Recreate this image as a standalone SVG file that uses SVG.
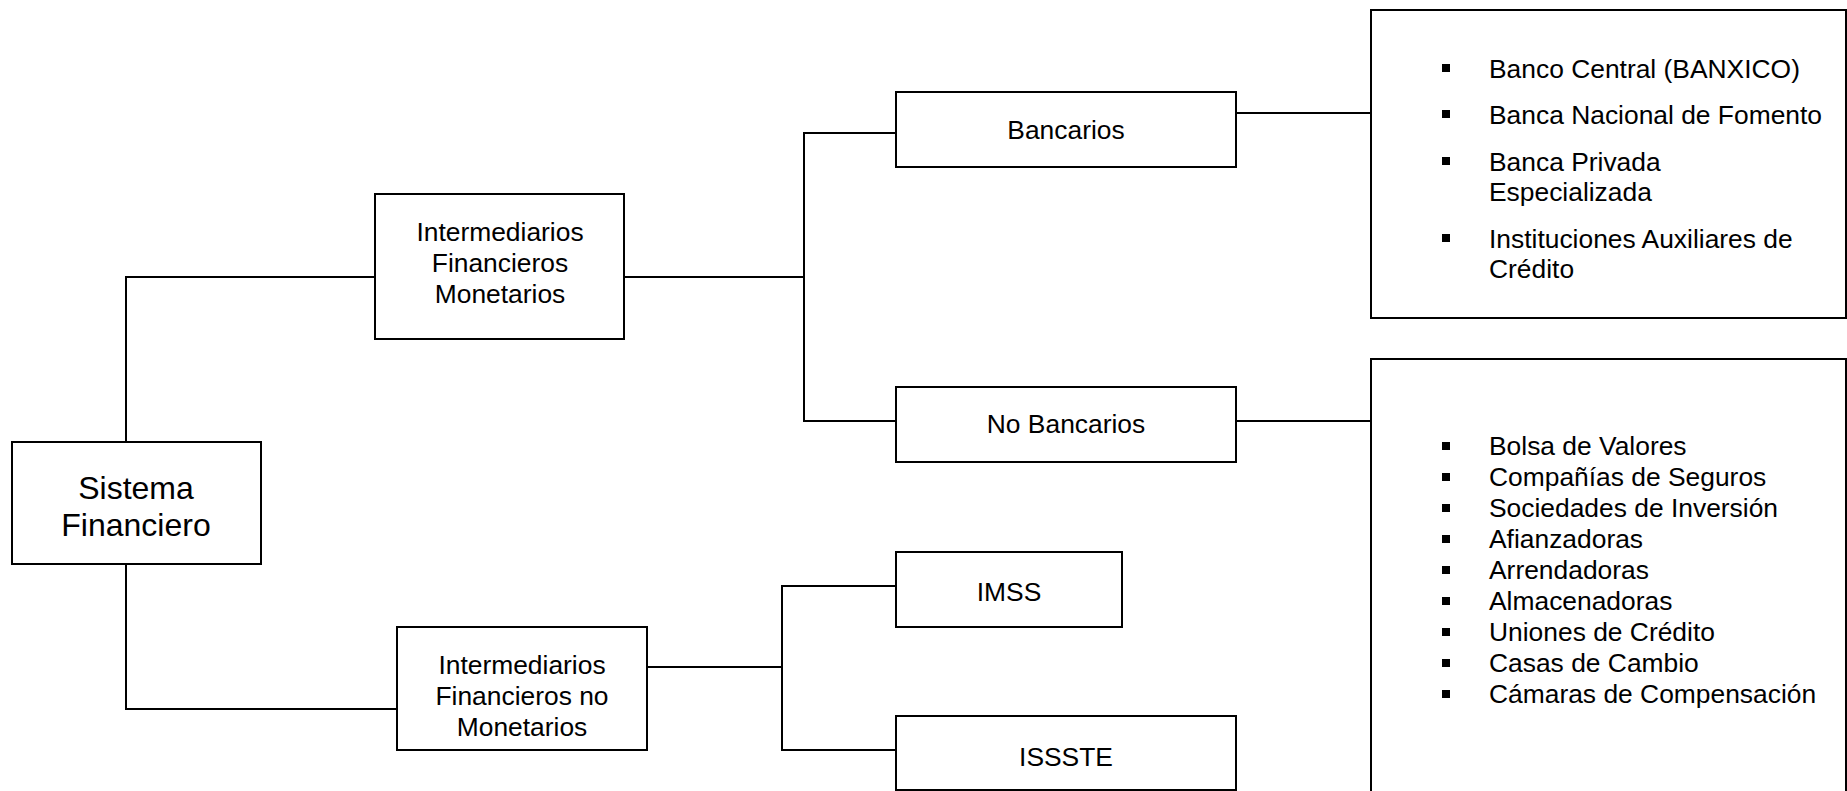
<svg xmlns="http://www.w3.org/2000/svg" width="1847" height="791" viewBox="0 0 1847 791">
<style>
.box{fill:#fff;stroke:#000;stroke-width:2}
.ln{fill:none;stroke:#000;stroke-width:2}
text{font-family:"Liberation Sans",Arial,sans-serif;font-size:26.4px;fill:#000}
.c{text-anchor:middle}
.big{font-size:32px}
.bul{fill:#000}
</style>
<rect width="1847" height="791" fill="#fff"/>
<g id="connectors">
<polyline class="ln" points="126,442 126,277 375,277"/>
<polyline class="ln" points="126,564 126,709 397,709"/>
<line class="ln" x1="624" y1="277" x2="804" y2="277"/>
<polyline class="ln" points="896,133 804,133 804,421 896,421"/>
<line class="ln" x1="1236" y1="113" x2="1371" y2="113"/>
<line class="ln" x1="1236" y1="421" x2="1371" y2="421"/>
<line class="ln" x1="647" y1="667" x2="782" y2="667"/>
<polyline class="ln" points="896,586 782,586 782,750 896,750"/>
</g>
<g id="sistema">
<rect class="box" x="12" y="442" width="249" height="122"/>
<text class="c big" x="136" y="499">Sistema</text>
<text class="c big" x="136" y="536">Financiero</text>
</g>
<g id="ifm">
<rect class="box" x="375" y="194" width="249" height="145"/>
<text class="c" x="500" y="241">Intermediarios</text>
<text class="c" x="500" y="272">Financieros</text>
<text class="c" x="500" y="303">Monetarios</text>
</g>
<g id="ifnm">
<rect class="box" x="397" y="627" width="250" height="123"/>
<text class="c" x="522" y="674">Intermediarios</text>
<text class="c" x="522" y="705">Financieros no</text>
<text class="c" x="522" y="736">Monetarios</text>
</g>
<g id="bancarios">
<rect class="box" x="896" y="92" width="340" height="75"/>
<text class="c" x="1066" y="139">Bancarios</text>
</g>
<g id="nobancarios">
<rect class="box" x="896" y="387" width="340" height="75"/>
<text class="c" x="1066" y="433">No Bancarios</text>
</g>
<g id="imss">
<rect class="box" x="896" y="552" width="226" height="75"/>
<text class="c" x="1009" y="601">IMSS</text>
</g>
<g id="issste">
<rect class="box" x="896" y="716" width="340" height="74"/>
<text class="c" x="1066" y="766">ISSSTE</text>
</g>
<g id="bancarios-list">
<rect class="box" x="1371" y="10" width="475" height="308"/>
<rect class="bul" x="1442" y="64" width="8" height="8"/>
<text x="1489" y="78">Banco Central (BANXICO)</text>
<rect class="bul" x="1442" y="110" width="8" height="8"/>
<text x="1489" y="124">Banca Nacional de Fomento</text>
<rect class="bul" x="1442" y="157" width="8" height="8"/>
<text x="1489" y="171">Banca Privada</text>
<text x="1489" y="201">Especializada</text>
<rect class="bul" x="1442" y="234" width="8" height="8"/>
<text x="1489" y="248">Instituciones Auxiliares de</text>
<text x="1489" y="278">Crédito</text>
</g>
<g id="nobancarios-list">
<rect class="box" x="1371" y="359" width="475" height="440"/>
<rect class="bul" x="1442" y="442" width="8" height="8"/>
<text x="1489" y="455">Bolsa de Valores</text>
<rect class="bul" x="1442" y="473" width="8" height="8"/>
<text x="1489" y="486">Compañías de Seguros</text>
<rect class="bul" x="1442" y="504" width="8" height="8"/>
<text x="1489" y="517">Sociedades de Inversión</text>
<rect class="bul" x="1442" y="535" width="8" height="8"/>
<text x="1489" y="548">Afianzadoras</text>
<rect class="bul" x="1442" y="566" width="8" height="8"/>
<text x="1489" y="579">Arrendadoras</text>
<rect class="bul" x="1442" y="597" width="8" height="8"/>
<text x="1489" y="610">Almacenadoras</text>
<rect class="bul" x="1442" y="628" width="8" height="8"/>
<text x="1489" y="641">Uniones de Crédito</text>
<rect class="bul" x="1442" y="659" width="8" height="8"/>
<text x="1489" y="672">Casas de Cambio</text>
<rect class="bul" x="1442" y="690" width="8" height="8"/>
<text x="1489" y="703">Cámaras de Compensación</text>
</g>
</svg>
